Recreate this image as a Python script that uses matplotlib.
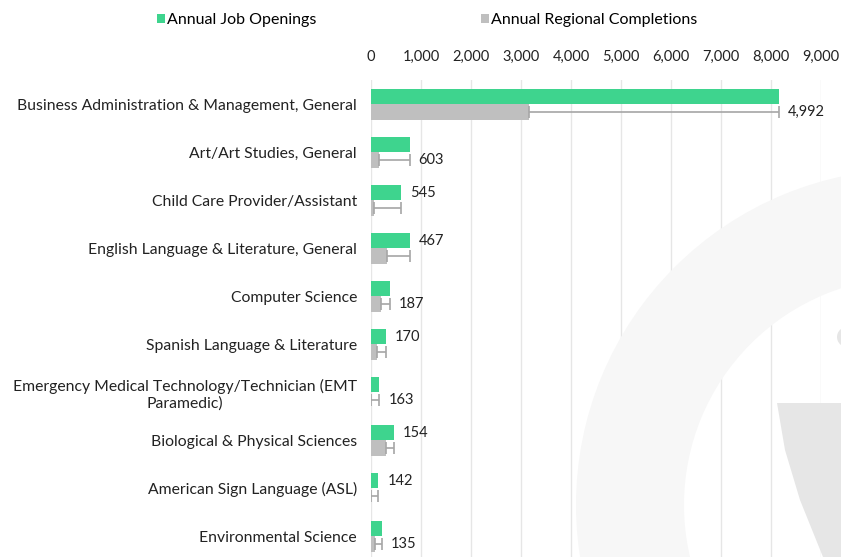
import matplotlib.pyplot as plt
import matplotlib.patches as mpatches
import numpy as np

plt.rcParams['font.family'] = ['Lato', 'DejaVu Sans']

programs = [
    "Business Administration & Management, General",
    "Art/Art Studies, General",
    "Child Care Provider/Assistant",
    "English Language & Literature, General",
    "Computer Science",
    "Spanish Language & Literature",
    "Emergency Medical Technology/Technician (EMT\nParamedic)",
    "Biological & Physical Sciences",
    "American Sign Language (ASL)",
    "Environmental Science",
]
job_openings = [8160, 770, 600, 785, 385, 290, 168, 455, 147, 220]
completions = [3168, 167, 55, 318, 198, 120, 5, 301, 5, 85]
gap_labels = [4992, 603, 545, 467, 187, 170, 163, 154, 142, 135]
label_on_green = [False, False, True, True, False, True, False, True, True, False]

green = '#3ed48e'
grey = '#bfbfbf'

fig = plt.figure(figsize=(8.41, 5.57), dpi=100)

# faint logo watermark in the background (inches from bottom-left)
ring = mpatches.Wedge((9.12, 0.52), 3.36, 0, 360, width=1.08,
                      transform=fig.dpi_scale_trans, facecolor='#f7f7f7',
                      edgecolor='none', zorder=0)
fig.patches.append(ring)
shield = mpatches.Polygon([(7.77, 1.54), (8.41, 1.54), (8.41, 0), (8.23, 0),
                           (8.00, 0.57), (7.85, 1.07)],
                          transform=fig.dpi_scale_trans, facecolor='#e6e6e6',
                          edgecolor='none', zorder=0)
fig.patches.append(shield)
blob = mpatches.Circle((8.47, 2.2), 0.1, transform=fig.dpi_scale_trans,
                       facecolor='#e6e6e6', edgecolor='none', zorder=0)
fig.patches.append(blob)

ax = fig.add_axes([371 / 841, -0.006, 450 / 841, 0.862])
ax.patch.set_alpha(0)

y = np.arange(len(programs))
h = 0.32
ax.barh(y - h / 2, job_openings, height=h, color=green, label='Annual Job Openings', zorder=2)
ax.barh(y + h / 2, completions, height=h, color=grey, label='Annual Regional Completions', zorder=2)

gaps = np.array(job_openings) - np.array(completions)
ax.errorbar(completions, y + h / 2, xerr=[np.zeros(len(y)), gaps], fmt='none',
            ecolor='#a6a6a6', elinewidth=1.2, capsize=4, capthick=1.2, zorder=3)

for i, g in enumerate(gap_labels):
    ly = y[i] - h / 2 if label_on_green[i] else y[i] + h / 2
    ax.text(job_openings[i] + 180, ly, f'{g:,}', va='center', ha='left',
            fontsize=10.5, color='#222222')

ax.set_xlim(0, 9000)
ax.set_ylim(len(programs) - 0.5, -0.5)
ax.set_xticks(np.arange(0, 9001, 1000))
ax.set_xticklabels([f'{v:,}' for v in range(0, 9001, 1000)])
ax.xaxis.tick_top()
ax.tick_params(axis='x', length=0, pad=12, labelsize=10.5, colors='#222222')
ax.set_yticks(y)
ax.set_yticklabels(programs, multialignment='center')
ax.tick_params(axis='y', length=0, pad=10, labelsize=11.3, colors='#222222')
ax.grid(axis='x', color='#e6e6e6', linewidth=1, zorder=0)
ax.set_axisbelow(True)
for s in ax.spines.values():
    s.set_visible(False)

fig.legend(loc='center', bbox_to_anchor=(427 / 841, 1 - 20 / 557), ncol=2,
           frameon=False, fontsize=11.5, handlelength=0.5, handleheight=0.5,
           handletextpad=0.15, columnspacing=10.3)

plt.savefig('out.png', dpi=100)
